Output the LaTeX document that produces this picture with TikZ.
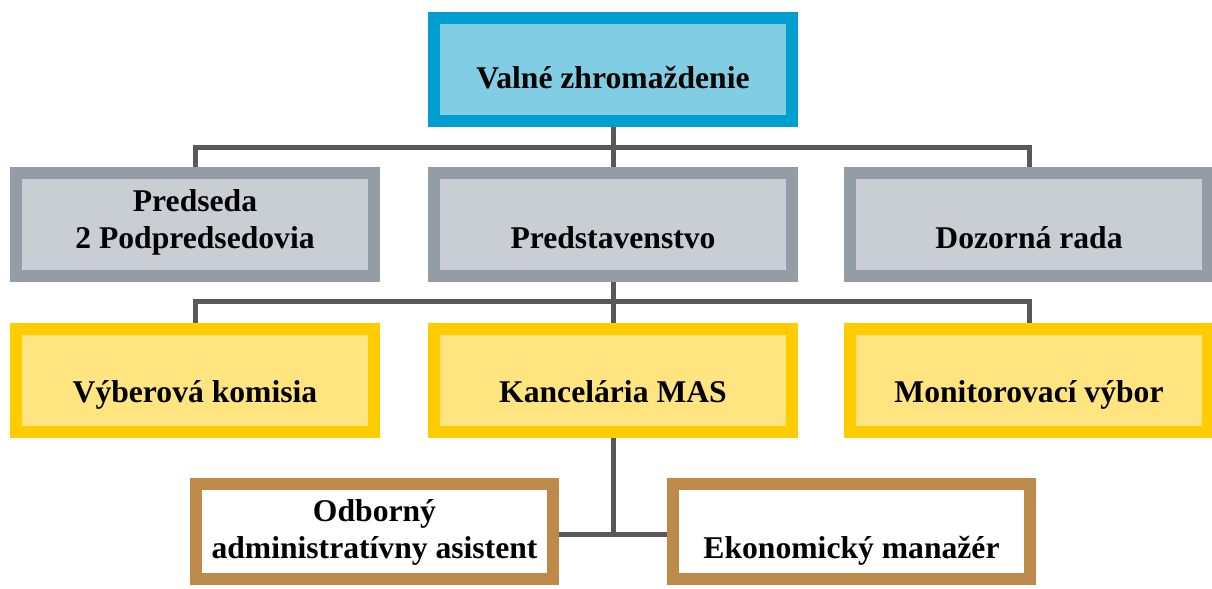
\documentclass[tikz,border=0pt]{standalone}
\usepackage{fontspec}
\setmainfont{Liberation Serif}
\usetikzlibrary{backgrounds}

\definecolor{vzline}{RGB}{0,159,207}
\definecolor{vzfill}{RGB}{128,205,228}
\definecolor{grayline}{RGB}{148,157,166}
\definecolor{grayfill}{RGB}{201,206,213}
\definecolor{yelline}{RGB}{255,204,0}
\definecolor{yelfill}{RGB}{255,228,128}
\definecolor{brownline}{RGB}{190,138,74}
\definecolor{conn}{RGB}{89,89,89}

\tikzset{
    orgbox/.style={draw, line width=0.24cm, inner sep=0pt, outer sep=0pt,
        minimum width=7.16cm, minimum height=2.06cm, align=center, text depth=0.2cm,
        font=\fontsize{18}{21.6}\selectfont\bfseries},
    bluebox/.style={orgbox, draw=vzline, fill=vzfill, text height=0.98cm},
    graybox/.style={orgbox, draw=grayline, fill=grayfill, text height=1.16cm},
    yelbox/.style={orgbox, draw=yelline, fill=yelfill, text height=1.1cm},
    brownbox/.style={orgbox, draw=brownline, fill=white, text height=1.3cm,
        minimum width=7.14cm, minimum height=1.9cm},
    link/.style={draw=conn, line width=0.1cm}
}

\begin{document}
\begin{tikzpicture}
                \useasboundingbox (0, 0) rectangle (24.24, 11.78);

                \node[bluebox] (vz) at (12.26, 10.39) {Valné zhromaždenie};

                \node[graybox] (predseda) at (3.9, 7.28) {Predseda\\2 Podpredsedovia};
                \node[graybox] (predstav) at (12.26, 7.28) {Predstavenstvo};
                \node[graybox] (dozor) at (20.58, 7.28) {Dozorná rada};

                \node[yelbox] (vyber) at (3.9, 4.17) {Výberová komisia};
                \node[yelbox] (kancel) at (12.26, 4.17) {Kancelária MAS};
                \node[yelbox] (monitor) at (20.58, 4.17) {Monitorovací výbor};

                \node[brownbox] (odborny) at (7.49, 1.15) {Odborný\\administratívny asistent};
                \node[brownbox] (ekonom) at (17.03, 1.15) {Ekonomický manažér};

                \begin{scope}[on background layer]
                \coordinate (bus1) at (12.26, 8.82);
                \coordinate (bus2) at (12.26, 5.74);
                \coordinate (bus3) at (12.26, 1.08);

                \draw[link] (vz.south) -- (bus1);
                \draw[link] (predseda.north) |- (bus1) -| (dozor.north);
                \draw[link] (bus1) -- (predstav.north);

                \draw[link] (predstav.south) -- (bus2);
                \draw[link] (vyber.north) |- (bus2) -| (monitor.north);
                \draw[link] (bus2) -- (kancel.north);

                \draw[link] (kancel.south) -- (bus3);
                \draw[link] (odborny.east |- bus3) -- (ekonom.west |- bus3);
                \end{scope}
            \end{tikzpicture}
\end{document}
